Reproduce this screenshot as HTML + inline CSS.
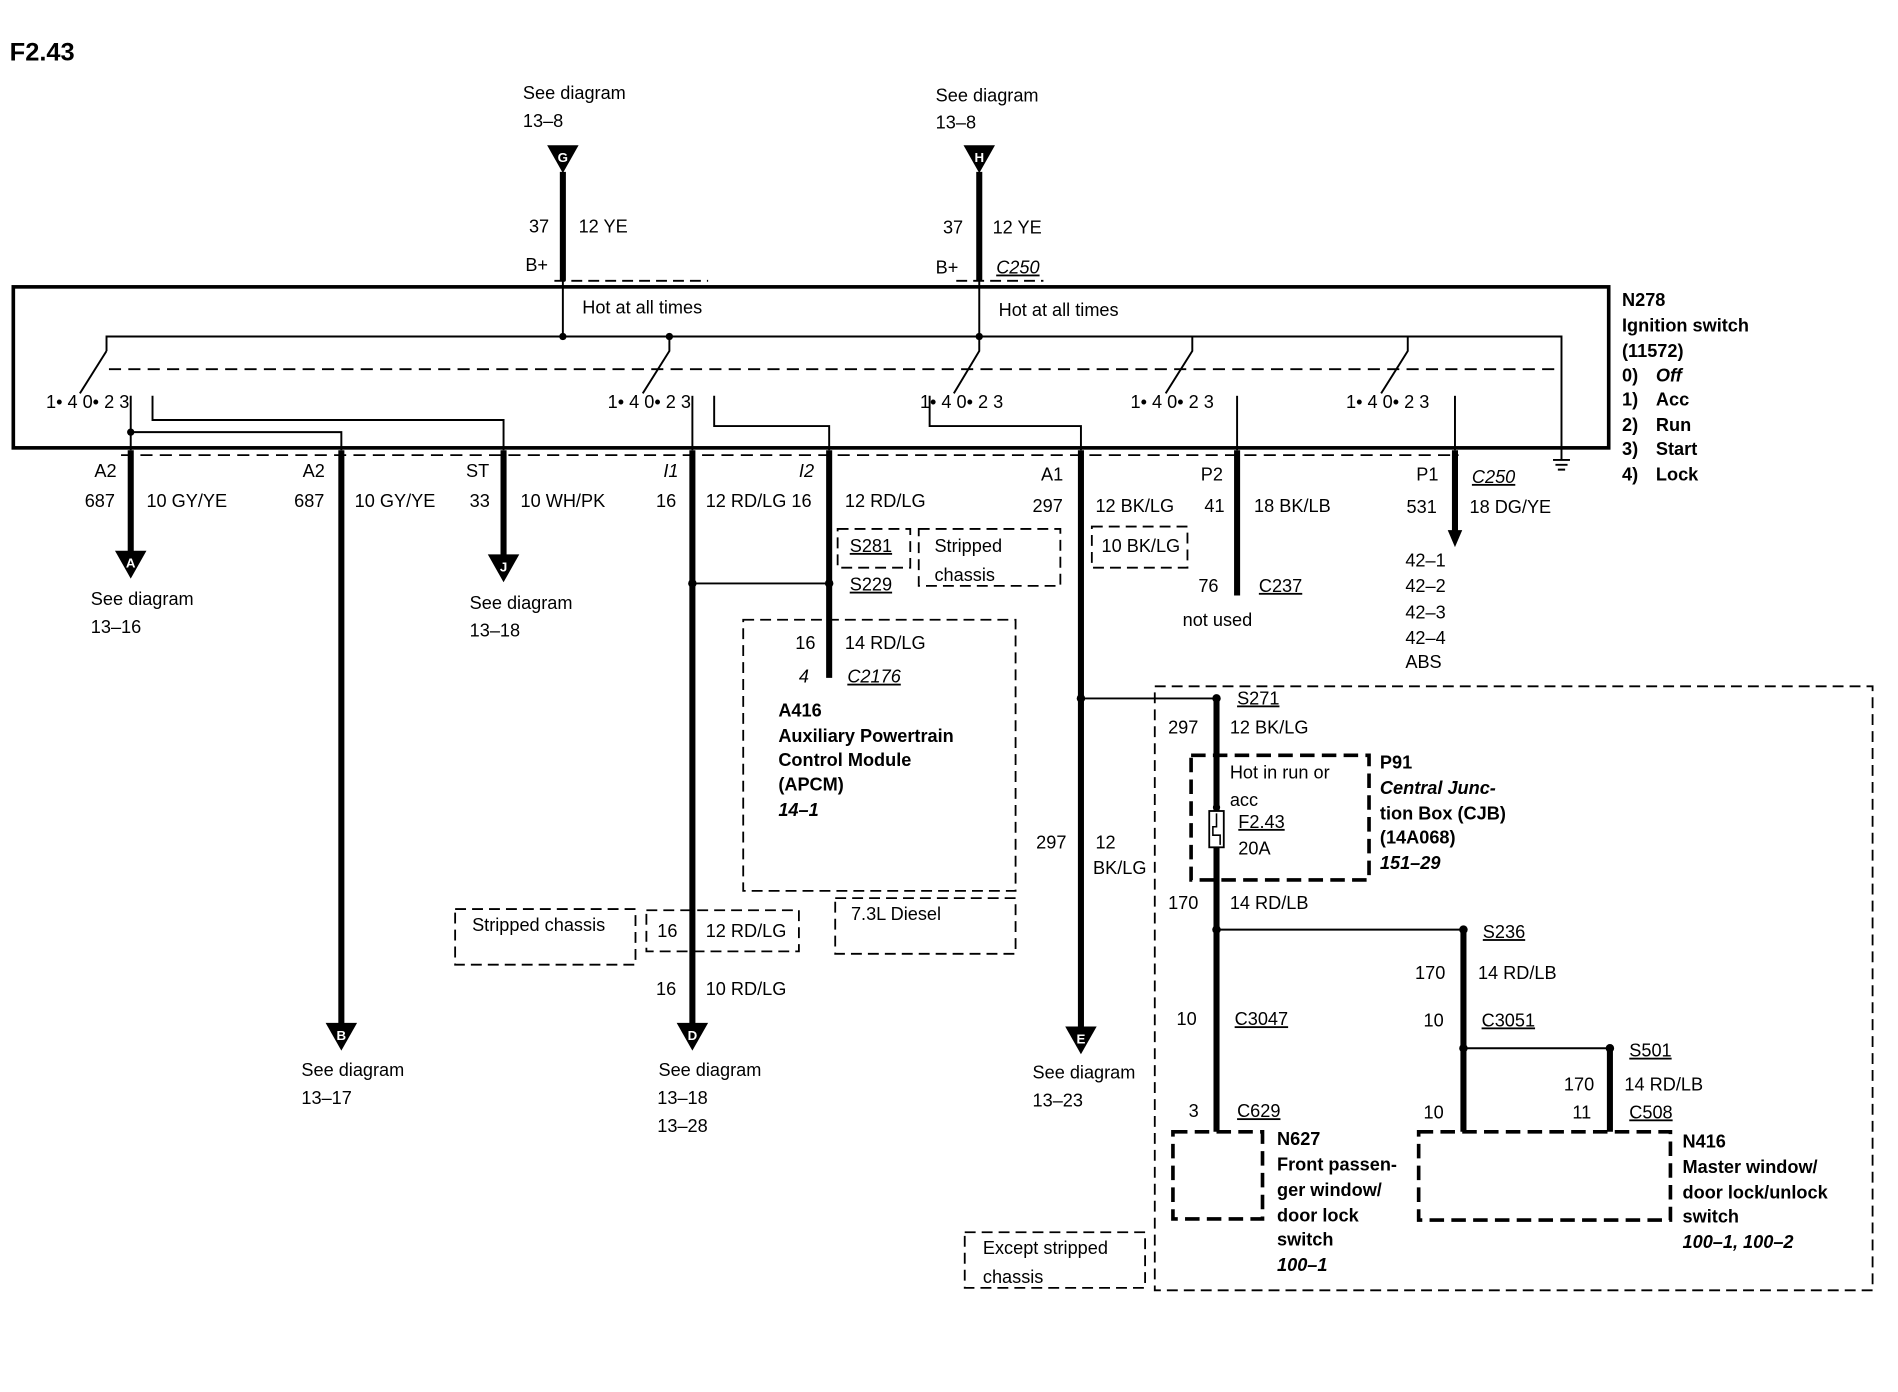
<!DOCTYPE html>
<html><head><meta charset="utf-8"><style>
html,body{margin:0;padding:0;background:#fff}
svg{display:block}
text{font-family:"Liberation Sans",sans-serif;font-size:15px;fill:#000}
.b{font-weight:bold}
.i{font-style:italic}
</style></head><body>
<svg width="1898" height="1392" viewBox="0 0 1568 1150" preserveAspectRatio="none" xmlns="http://www.w3.org/2000/svg">
<g stroke="#000" fill="none">
<rect x="11" y="237" width="1318" height="133" stroke-width="3"/>
<path d="M458 232 H585 M790 232 H862" stroke-width="1.5" stroke-dasharray="9,5"/>
<path d="M90 305 H1290" stroke-width="1.5" stroke-dasharray="10,6"/>
<path d="M100 376 H1205" stroke-width="1.5" stroke-dasharray="10,6"/>
<g stroke-width="1.6">
<path d="M465 232 V278 M809 232 V278"/>
<path d="M88 290 V278 H1290 V380"/>
<path d="M88 290 L66 325"/>
<path d="M553 278 V290 L531 325"/>
<path d="M809 278 V290 L788 325"/>
<path d="M985 278 V290 L963 325"/>
<path d="M1163 278 V290 L1141 325"/>
<path d="M108 327 V372 M108 357 H282 V372"/>
<path d="M126 327 V347 H416 V372"/>
<path d="M572 327 V372"/>
<path d="M590 327 V352 H685 V372"/>
<path d="M768 327 V352 H893 V372"/>
<path d="M1022 327 V372"/>
<path d="M1202 327 V372"/>
<path d="M1283 380 H1297 M1285 384 H1295 M1287 388 H1293"/>
<path d="M572 482 H685"/>
<path d="M893 577 H1005"/>
<path d="M1005 768 H1209"/>
<path d="M1209 866 H1330"/>
</g>
<g stroke-width="5">
<path d="M465 142 V232 M809 142 V232"/>
<path d="M108 372 V456 M282 372 V846 M416 372 V459 M572 372 V846 M685 372 V560 M893 372 V848 M1022 372 V492 M1202 372 V440"/>
<path d="M1005 577 V935 M1209 768 V935 M1330 866 V935"/>
</g>
<g stroke-width="1.5" stroke-dasharray="9,5">
<rect x="692" y="437" width="60" height="32"/>
<rect x="759" y="437" width="117" height="47"/>
<rect x="902" y="435" width="79" height="34"/>
<rect x="614" y="512" width="225" height="224"/>
<rect x="690" y="742" width="149" height="46"/>
<rect x="376" y="751" width="149" height="46"/>
<rect x="534" y="752" width="126" height="34"/>
<rect x="954" y="567" width="593" height="499"/>
<rect x="797" y="1018" width="149" height="46"/>
</g>
<g stroke-width="3" stroke-dasharray="12,6">
<rect x="984" y="624" width="147" height="103"/>
<rect x="969" y="935" width="74" height="72"/>
<rect x="1172" y="935" width="208" height="73"/>
</g>
<rect x="999" y="670" width="12" height="30" stroke-width="1.5" fill="#fff"/>
<path d="M1005 672 V683 H1002 V690 H1008 V698" stroke-width="1.3"/>
</g>
<g fill="#000">
<circle cx="465" cy="278" r="3"/><circle cx="553" cy="278" r="3"/><circle cx="809" cy="278" r="3"/>
<circle cx="108" cy="357" r="3"/><circle cx="572" cy="482" r="3.5"/><circle cx="685" cy="482" r="3.5"/>
<circle cx="893" cy="577" r="3.5"/><circle cx="1005" cy="577" r="3.5"/><circle cx="1005" cy="768" r="3.5"/>
<circle cx="1209" cy="768" r="3.5"/><circle cx="1209" cy="866" r="3.5"/><circle cx="1330" cy="866" r="3.5"/>
<circle cx="1005" cy="667" r="3"/>
<path d="M452 120 H478 L465 143 Z"/><path d="M796 120 H822 L809 143 Z"/>
<path d="M95 455 H121 L108 478 Z"/><path d="M269 845 H295 L282 868 Z"/>
<path d="M403 458 H429 L416 481 Z"/><path d="M559 845 H585 L572 868 Z"/>
<path d="M880 848 H906 L893 871 Z"/>
<path d="M1196 438 H1208 L1202 452 Z"/>
</g>
<g text-anchor="middle" style="font-weight:bold">
<text x="465" y="134" style="font-size:11px;fill:#fff">G</text>
<text x="809" y="134" style="font-size:11px;fill:#fff">H</text>
<text x="108" y="469" style="font-size:11px;fill:#fff">A</text>
<text x="282" y="859" style="font-size:11px;fill:#fff">B</text>
<text x="416" y="472" style="font-size:11px;fill:#fff">J</text>
<text x="572" y="859" style="font-size:11px;fill:#fff">D</text>
<text x="893" y="862" style="font-size:11px;fill:#fff">E</text>
</g>
<text x="8" y="50" class="b" style="font-size:21px">F2.43</text>
<text x="432" y="82">See diagram</text><text x="432" y="105">13–8</text>
<text x="773" y="84">See diagram</text><text x="773" y="106">13–8</text>
<text x="437" y="192">37</text><text x="478" y="192">12 YE</text><text x="434" y="224">B+</text>
<text x="779" y="193">37</text><text x="820" y="193">12 YE</text><text x="773" y="226">B+</text>
<text x="823" y="226" class="i" text-decoration="underline">C250</text>
<text x="481" y="259">Hot at all times</text><text x="825" y="261">Hot at all times</text>
<g class="b"><text x="1340" y="253">N278</text><text x="1340" y="274">Ignition switch</text><text x="1340" y="295">(11572)</text>
<text x="1340" y="315">0)</text><text x="1368" y="315" class="i">Off</text>
<text x="1340" y="335">1)</text><text x="1368" y="335">Acc</text>
<text x="1340" y="356">2)</text><text x="1368" y="356">Run</text>
<text x="1340" y="376">3)</text><text x="1368" y="376">Start</text>
<text x="1340" y="397">4)</text><text x="1368" y="397">Lock</text></g>
<text x="38" y="337">1• 4 0• 2 3</text><text x="502" y="337">1• 4 0• 2 3</text>
<text x="760" y="337">1• 4 0• 2 3</text><text x="934" y="337">1• 4 0• 2 3</text>
<text x="1112" y="337">1• 4 0• 2 3</text>
<text x="78" y="394">A2</text><text x="70" y="419">687</text><text x="121" y="419">10 GY/YE</text>
<text x="75" y="500">See diagram</text><text x="75" y="523">13–16</text>
<text x="250" y="394">A2</text><text x="243" y="419">687</text><text x="293" y="419">10 GY/YE</text>
<text x="249" y="889">See diagram</text><text x="249" y="912">13–17</text>
<text x="385" y="394">ST</text><text x="388" y="419">33</text><text x="430" y="419">10 WH/PK</text>
<text x="388" y="503">See diagram</text><text x="388" y="526">13–18</text>
<text x="548" y="394" class="i">I1</text><text x="542" y="419">16</text><text x="583" y="419">12 RD/LG 16</text>
<text x="390" y="769">Stripped chassis</text>
<text x="543" y="774">16</text><text x="583" y="774">12 RD/LG</text>
<text x="542" y="822">16</text><text x="583" y="822">10 RD/LG</text>
<text x="544" y="889">See diagram</text><text x="543" y="912">13–18</text><text x="543" y="935">13–28</text>
<text x="660" y="394" class="i">I2</text><text x="698" y="419">12 RD/LG</text>
<text x="702" y="456" text-decoration="underline">S281</text>
<text x="772" y="456">Stripped</text><text x="772" y="480">chassis</text>
<text x="702" y="488" text-decoration="underline">S229</text>
<text x="657" y="536">16</text><text x="698" y="536">14 RD/LG</text>
<text x="660" y="564" class="i">4</text><text x="700" y="564" class="i" text-decoration="underline">C2176</text>
<g class="b"><text x="643" y="592">A416</text><text x="643" y="613">Auxiliary Powertrain</text>
<text x="643" y="633">Control Module</text><text x="643" y="653">(APCM)</text>
<text x="643" y="674" class="i">14–1</text></g>
<text x="703" y="760">7.3L Diesel</text>
<text x="860" y="397">A1</text><text x="853" y="423">297</text><text x="905" y="423">12 BK/LG</text>
<text x="910" y="456">10 BK/LG</text>
<text x="856" y="701">297</text><text x="905" y="701">12</text><text x="903" y="722">BK/LG</text>
<text x="853" y="891">See diagram</text><text x="853" y="914">13–23</text>
<text x="992" y="397">P2</text><text x="995" y="423">41</text><text x="1036" y="423">18 BK/LB</text>
<text x="990" y="489">76</text><text x="1040" y="489" text-decoration="underline">C237</text>
<text x="977" y="517">not used</text>
<text x="1170" y="397">P1</text><text x="1216" y="399" class="i" text-decoration="underline">C250</text>
<text x="1162" y="424">531</text><text x="1214" y="424">18 DG/YE</text>
<text x="1161" y="468">42–1</text><text x="1161" y="489">42–2</text><text x="1161" y="511">42–3</text>
<text x="1161" y="532">42–4</text><text x="1161" y="552">ABS</text>
<text x="812" y="1036">Except stripped</text><text x="812" y="1060">chassis</text>
<text x="1022" y="582" text-decoration="underline">S271</text>
<text x="965" y="606">297</text><text x="1016" y="606">12 BK/LG</text>
<text x="1016" y="643">Hot in run or</text><text x="1016" y="666">acc</text>
<text x="1023" y="684" text-decoration="underline">F2.43</text><text x="1023" y="706">20A</text>
<g class="b"><text x="1140" y="635">P91</text><text x="1140" y="656" class="i">Central Junc-</text>
<text x="1140" y="677">tion Box (CJB)</text><text x="1140" y="697">(14A068)</text>
<text x="1140" y="718" class="i">151–29</text></g>
<text x="965" y="751">170</text><text x="1016" y="751">14 RD/LB</text>
<text x="972" y="847">10</text><text x="1020" y="847" text-decoration="underline">C3047</text>
<text x="982" y="923">3</text><text x="1022" y="923" text-decoration="underline">C629</text>
<g class="b"><text x="1055" y="946">N627</text><text x="1055" y="967">Front passen-</text>
<text x="1055" y="988">ger window/</text><text x="1055" y="1009">door lock</text>
<text x="1055" y="1029">switch</text><text x="1055" y="1050" class="i">100–1</text></g>
<text x="1225" y="775" text-decoration="underline">S236</text>
<text x="1169" y="809">170</text><text x="1221" y="809">14 RD/LB</text>
<text x="1176" y="848">10</text><text x="1224" y="848" text-decoration="underline">C3051</text>
<text x="1346" y="873" text-decoration="underline">S501</text>
<text x="1292" y="901">170</text><text x="1342" y="901">14 RD/LB</text>
<text x="1176" y="924">10</text><text x="1299" y="924">11</text>
<text x="1346" y="924" text-decoration="underline">C508</text>
<g class="b"><text x="1390" y="948">N416</text><text x="1390" y="969">Master window/</text>
<text x="1390" y="990">door lock/unlock</text><text x="1390" y="1010">switch</text>
<text x="1390" y="1031" class="i">100–1, 100–2</text></g>
</svg>
</body></html>
